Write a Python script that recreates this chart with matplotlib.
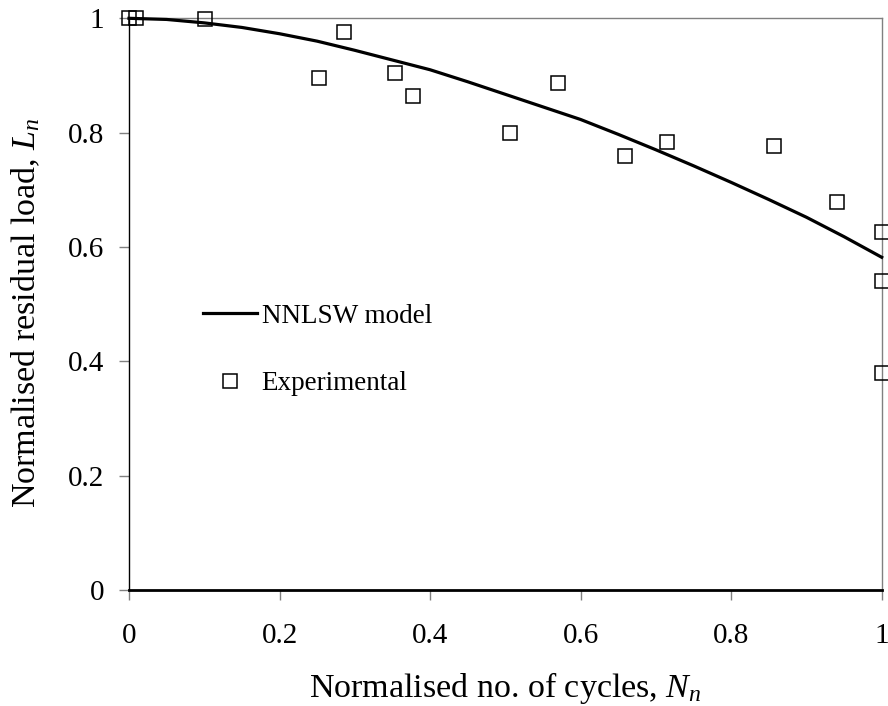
import matplotlib
matplotlib.use("Agg")
import matplotlib.pyplot as plt
from matplotlib.lines import Line2D

plt.rcParams['font.family'] = ['Liberation Serif', 'DejaVu Serif']
plt.rcParams['mathtext.fontset'] = 'custom'
plt.rcParams['mathtext.rm'] = 'Liberation Serif'
plt.rcParams['mathtext.it'] = 'Liberation Serif:italic'

# NNLSW model curve
model_x = [0.0, 0.05, 0.1, 0.15, 0.2, 0.25, 0.3, 0.35, 0.4, 0.45, 0.5,
           0.55, 0.6, 0.65, 0.7, 0.75, 0.8, 0.85, 0.9, 0.95, 1.0]
model_y = [1.0, 0.998, 0.992, 0.984, 0.973, 0.960, 0.944, 0.927, 0.910, 0.889, 0.867,
           0.845, 0.823, 0.797, 0.770, 0.742, 0.713, 0.683, 0.652, 0.618, 0.582]

# Experimental points
exp_x = [0.0, 0.009, 0.101, 0.253, 0.285, 0.353, 0.377, 0.506, 0.570,
         0.659, 0.715, 0.857, 0.940, 1.0, 1.0, 1.0]
exp_y = [1.0, 1.0, 0.998, 0.895, 0.976, 0.905, 0.864, 0.799, 0.886,
         0.760, 0.783, 0.777, 0.679, 0.626, 0.541, 0.379]

x_ticks = [0, 0.2, 0.4, 0.6, 0.8, 1]
x_ticklabels = ['0', '0.2', '0.4', '0.6', '0.8', '1']
y_ticks = [0, 0.2, 0.4, 0.6, 0.8, 1]
y_ticklabels = ['0', '0.2', '0.4', '0.6', '0.8', '1']

TICK_FS = 21
LABEL_FS = 24.5
LEG_FS = 19.5

fig = plt.figure(figsize=(8.88, 7.06), dpi=100)
ax = fig.add_axes([129/888, (706-590)/706, (881.7-129)/888, (590-18.3)/706])

ax.plot(model_x, model_y, color='black', lw=2.3, clip_on=False, zorder=3)
ax.plot(exp_x, exp_y, linestyle='none', marker='s', ms=10.5, mfc='none',
        mec='black', mew=1.1, clip_on=False, zorder=4)

ax.set_xlim(0, 1)
ax.set_ylim(0, 1)
ax.set_xticks(x_ticks)
ax.set_xticklabels(x_ticklabels)
ax.set_yticks(y_ticks)
ax.set_yticklabels(y_ticklabels)

ax.tick_params(axis='x', direction='out', length=7, width=1, color='#808080',
               labelsize=TICK_FS, pad=17)
ax.tick_params(axis='y', direction='out', length=7, width=1, color='#808080',
               labelsize=TICK_FS, pad=11)

ax.spines['bottom'].set_color('black')
ax.spines['bottom'].set_linewidth(2.0)
ax.spines['left'].set_color('black')
ax.spines['left'].set_linewidth(1.0)
for s in ['top', 'right']:
    ax.spines[s].set_color('#808080')
    ax.spines[s].set_linewidth(1.0)

ax.set_xlabel(r'Normalised no. of cycles, $N_n$', fontsize=LABEL_FS, labelpad=15)
ax.set_ylabel(r'Normalised residual load, $L_n$', fontsize=LABEL_FS)
ax.yaxis.set_label_coords(-0.1156, 0.4845)

handles = [Line2D([], [], color='black', lw=2.3),
           Line2D([], [], linestyle='none', marker='s', ms=10.5, mfc='none',
                  mec='black', mew=1.1)]
leg = ax.legend(handles, ['NNLSW model', 'Experimental'], loc='upper left',
                bbox_to_anchor=(0.098, 0.501), frameon=False, fontsize=LEG_FS,
                handlelength=1.99, handletextpad=0.18, labelspacing=1.57,
                borderpad=0, borderaxespad=0)

fig.savefig('out.png', dpi=100)
